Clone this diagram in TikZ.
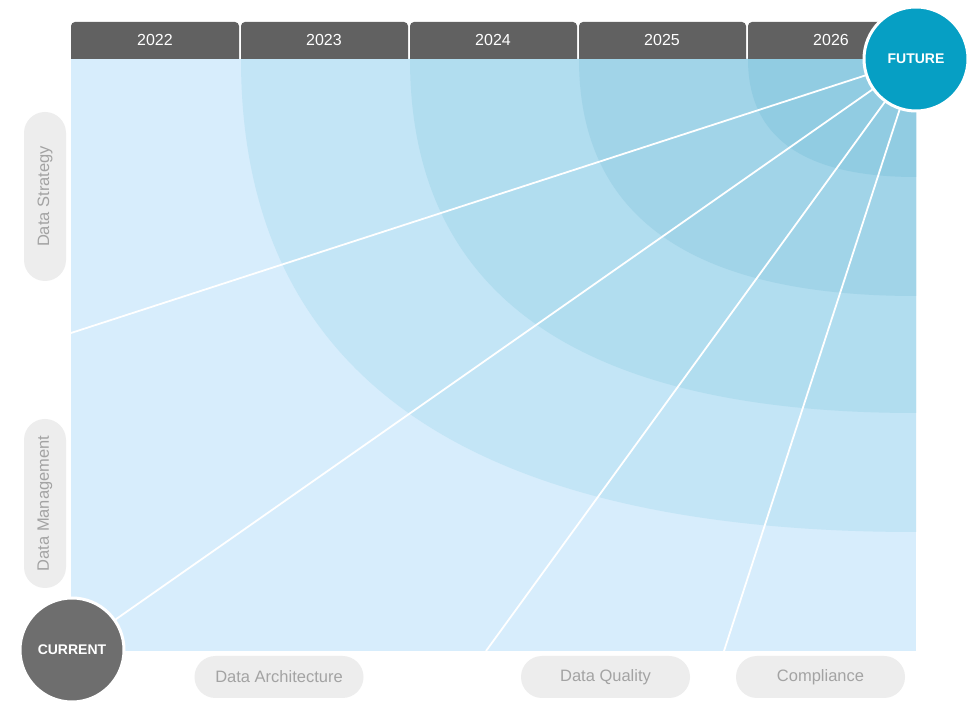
\documentclass[tikz,border=0pt]{standalone}
\usepackage{fontspec}
\setmainfont{Liberation Sans}
\begin{document}
\begin{tikzpicture}[x=1pt,y=1pt,
  yeartext/.style={text=white, font=\fontsize{16}{18}\selectfont},
  pill/.style={fill=pillgray, rounded corners=21pt, minimum width=169pt, minimum height=42pt, inner sep=0pt, text=pilltext, font=\fontsize{16.5}{18}\selectfont},
  bigcirc/.style={circle, draw=white, line width=3pt, minimum size=104pt, inner sep=0pt, text=white, font=\bfseries\fontsize{14}{16}\selectfont},
  ray/.style={draw=white, line width=1.8pt}
]
\definecolor{tabgray}{HTML}{616161}
\definecolor{pillgray}{HTML}{EDEDED}
\definecolor{pilltext}{HTML}{A3A3A3}
\definecolor{base}{HTML}{D7EDFC}
\definecolor{lay1}{HTML}{C3E5F6}
\definecolor{lay2}{HTML}{B1DDEF}
\definecolor{lay3}{HTML}{A1D4E8}
\definecolor{lay4}{HTML}{91CCE2}
\definecolor{futureblue}{HTML}{069FC4}
\definecolor{currentgray}{HTML}{6E6E6E}
\useasboundingbox (0,0) rectangle (972,720);
\fill[white] (0,0) rectangle (972,720);
% main area
\fill[base] (71,69) rectangle (916,661);
\fill[lay1] (916,661) -- (241,661) .. controls (241,345.5) and (465.8,188) .. (916,188) -- cycle;
\fill[lay2] (916,661) -- (410,661) .. controls (410,424.9) and (578.5,307) .. (916,307) -- cycle;
\fill[lay3] (916,661) -- (579,661) .. controls (579,502.9) and (691.2,424) .. (916,424) -- cycle;
\fill[lay4] (916,661) -- (748,661) .. controls (748,582.3) and (803.9,543) .. (916,543) -- cycle;
% header tabs
\begin{scope}
  \clip (0,661) rectangle (972,720);
  \fill[tabgray, rounded corners=4pt] (71,655) rectangle (239,698);
  \fill[tabgray, rounded corners=4pt] (241,655) rectangle (408,698);
  \fill[tabgray, rounded corners=4pt] (410,655) rectangle (577,698);
  \fill[tabgray, rounded corners=4pt] (579,655) rectangle (746,698);
  \fill[tabgray, rounded corners=4pt] (748,655) rectangle (916,698);
\end{scope}
\node[yeartext] (y22) at (155,680) {2022};
\node[yeartext] (y23) at (324,680) {2023};
\node[yeartext] (y24) at (493,680) {2024};
\node[yeartext] (y25) at (662,680) {2025};
\node[yeartext] (y26) at (831,680) {2026};
% ray endpoints
\coordinate (e1) at (71,387);
\coordinate (e3) at (486,69);
\coordinate (e4) at (724,69);
\coordinate (fc) at (916,661);
\coordinate (cc) at (72,70);
\draw[ray] (fc) -- (e1);
\draw[ray] (fc) -- (cc);
\draw[ray] (fc) -- (e3);
\draw[ray] (fc) -- (e4);
% circles
\node[bigcirc, fill=futureblue] (future) at (fc) {FUTURE};
\node[bigcirc, fill=currentgray] (current) at (cc) {CURRENT};
% side pills
\node[pill, rotate=90] (strategy) at (45,523.5) {Data Strategy};
\node[pill, rotate=90] (management) at (45,216.5) {Data Management};
% bottom pills
\node[pill] (arch) at (279,43) {Data Architecture};
\node[pill] (quality) at (605.5,43) {Data Quality};
\node[pill] (compliance) at (820.5,43) {Compliance};
\end{tikzpicture}
\end{document}
